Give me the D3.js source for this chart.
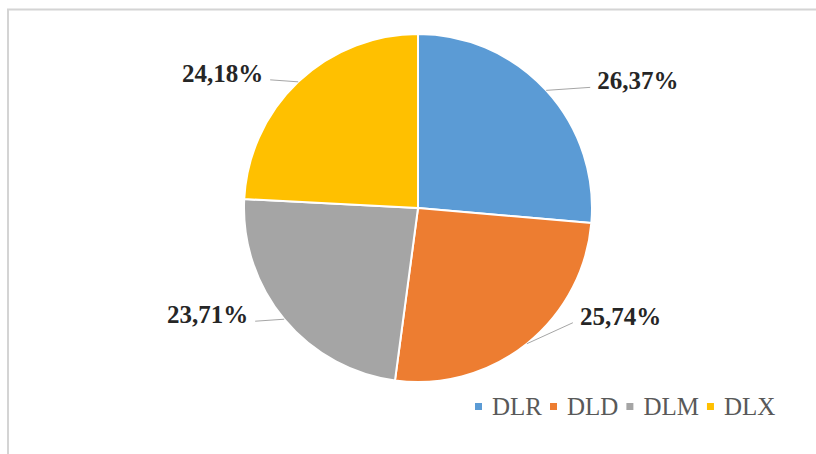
<!DOCTYPE html>
<html>
<head>
<meta charset="utf-8">
<script src="https://cdn.jsdelivr.net/npm/d3@7"></script>
<style>
  body { margin: 0; background: #fff; }
  svg { display: block; font-family: "Liberation Serif", "Times New Roman", serif; }
</style>
</head>
<body>
<div id="chart"></div>
<script>
// Data
const categories = ["DLR", "DLD", "DLM", "DLX"];
const shares = [26.37, 25.74, 23.71, 24.18];
const labels = ["26,37%", "25,74%", "23,71%", "24,18%"];
const colors = ["#5B9BD5", "#ED7D31", "#A5A5A5", "#FFC000"];

// Leader line offsets (from slice edge to label), as Excel placed them
const leaderOffsets = [[44, -3], [46, -21], [-29, 2], [-28, -2]];

const width = 816;
const height = 454;
const cx = 418, cy = 208, radius = 174;

const svg = d3.select("#chart")
    .append("svg")
    .attr("width", width)
    .attr("height", height);

// Chart area frame (only top and left edges visible)
svg.append("rect")
    .attr("x", 8)
    .attr("y", 9.5)
    .attr("width", 840)
    .attr("height", 480)
    .attr("fill", "none")
    .attr("stroke", "#d4d4d4")
    .attr("stroke-width", 2);

const pie = d3.pie().sort(null).value(d => d);
const arcs = pie(shares);

const arc = d3.arc().innerRadius(0).outerRadius(radius);

const g = svg.append("g")
    .attr("transform", `translate(${cx},${cy})`);

g.selectAll("path.slice")
    .data(arcs)
    .enter()
    .append("path")
    .attr("class", "slice")
    .attr("d", arc)
    .attr("fill", (d, i) => colors[i])
    .attr("stroke", "#fff")
    .attr("stroke-width", 2)
    .attr("stroke-linejoin", "round");

// Leader lines and data labels
arcs.forEach((d, i) => {
    const mid = (d.startAngle + d.endAngle) / 2;
    const x0 = Math.sin(mid) * radius;
    const y0 = -Math.cos(mid) * radius;
    const x1 = x0 + leaderOffsets[i][0];
    const y1 = y0 + leaderOffsets[i][1];
    const right = x1 > 0;

    g.append("line")
        .attr("x1", x0)
        .attr("y1", y0)
        .attr("x2", x1)
        .attr("y2", y1)
        .attr("stroke", "#a6a6a6")
        .attr("stroke-width", 1);

    g.append("text")
        .attr("x", right ? x1 + 7 : x1 - 7)
        .attr("y", y1 + 2)
        .attr("text-anchor", right ? "start" : "end")
        .style("font-size", "25px")
        .style("font-weight", "bold")
        .style("fill", "#262626")
        .text(labels[i]);
});

// Legend
const legend = svg.append("g")
    .attr("transform", "translate(475,415)");

let lx = 0;
categories.forEach((c, i) => {
    legend.append("rect")
        .attr("x", lx)
        .attr("y", -12)
        .attr("width", 7)
        .attr("height", 7)
        .attr("fill", colors[i]);
    const t = legend.append("text")
        .attr("x", lx + 17)
        .attr("y", 0)
        .style("font-size", "25px")
        .style("fill", "#595959")
        .text(c);
    lx += 17 + t.node().getComputedTextLength() + 8;
});
</script>
</body>
</html>
